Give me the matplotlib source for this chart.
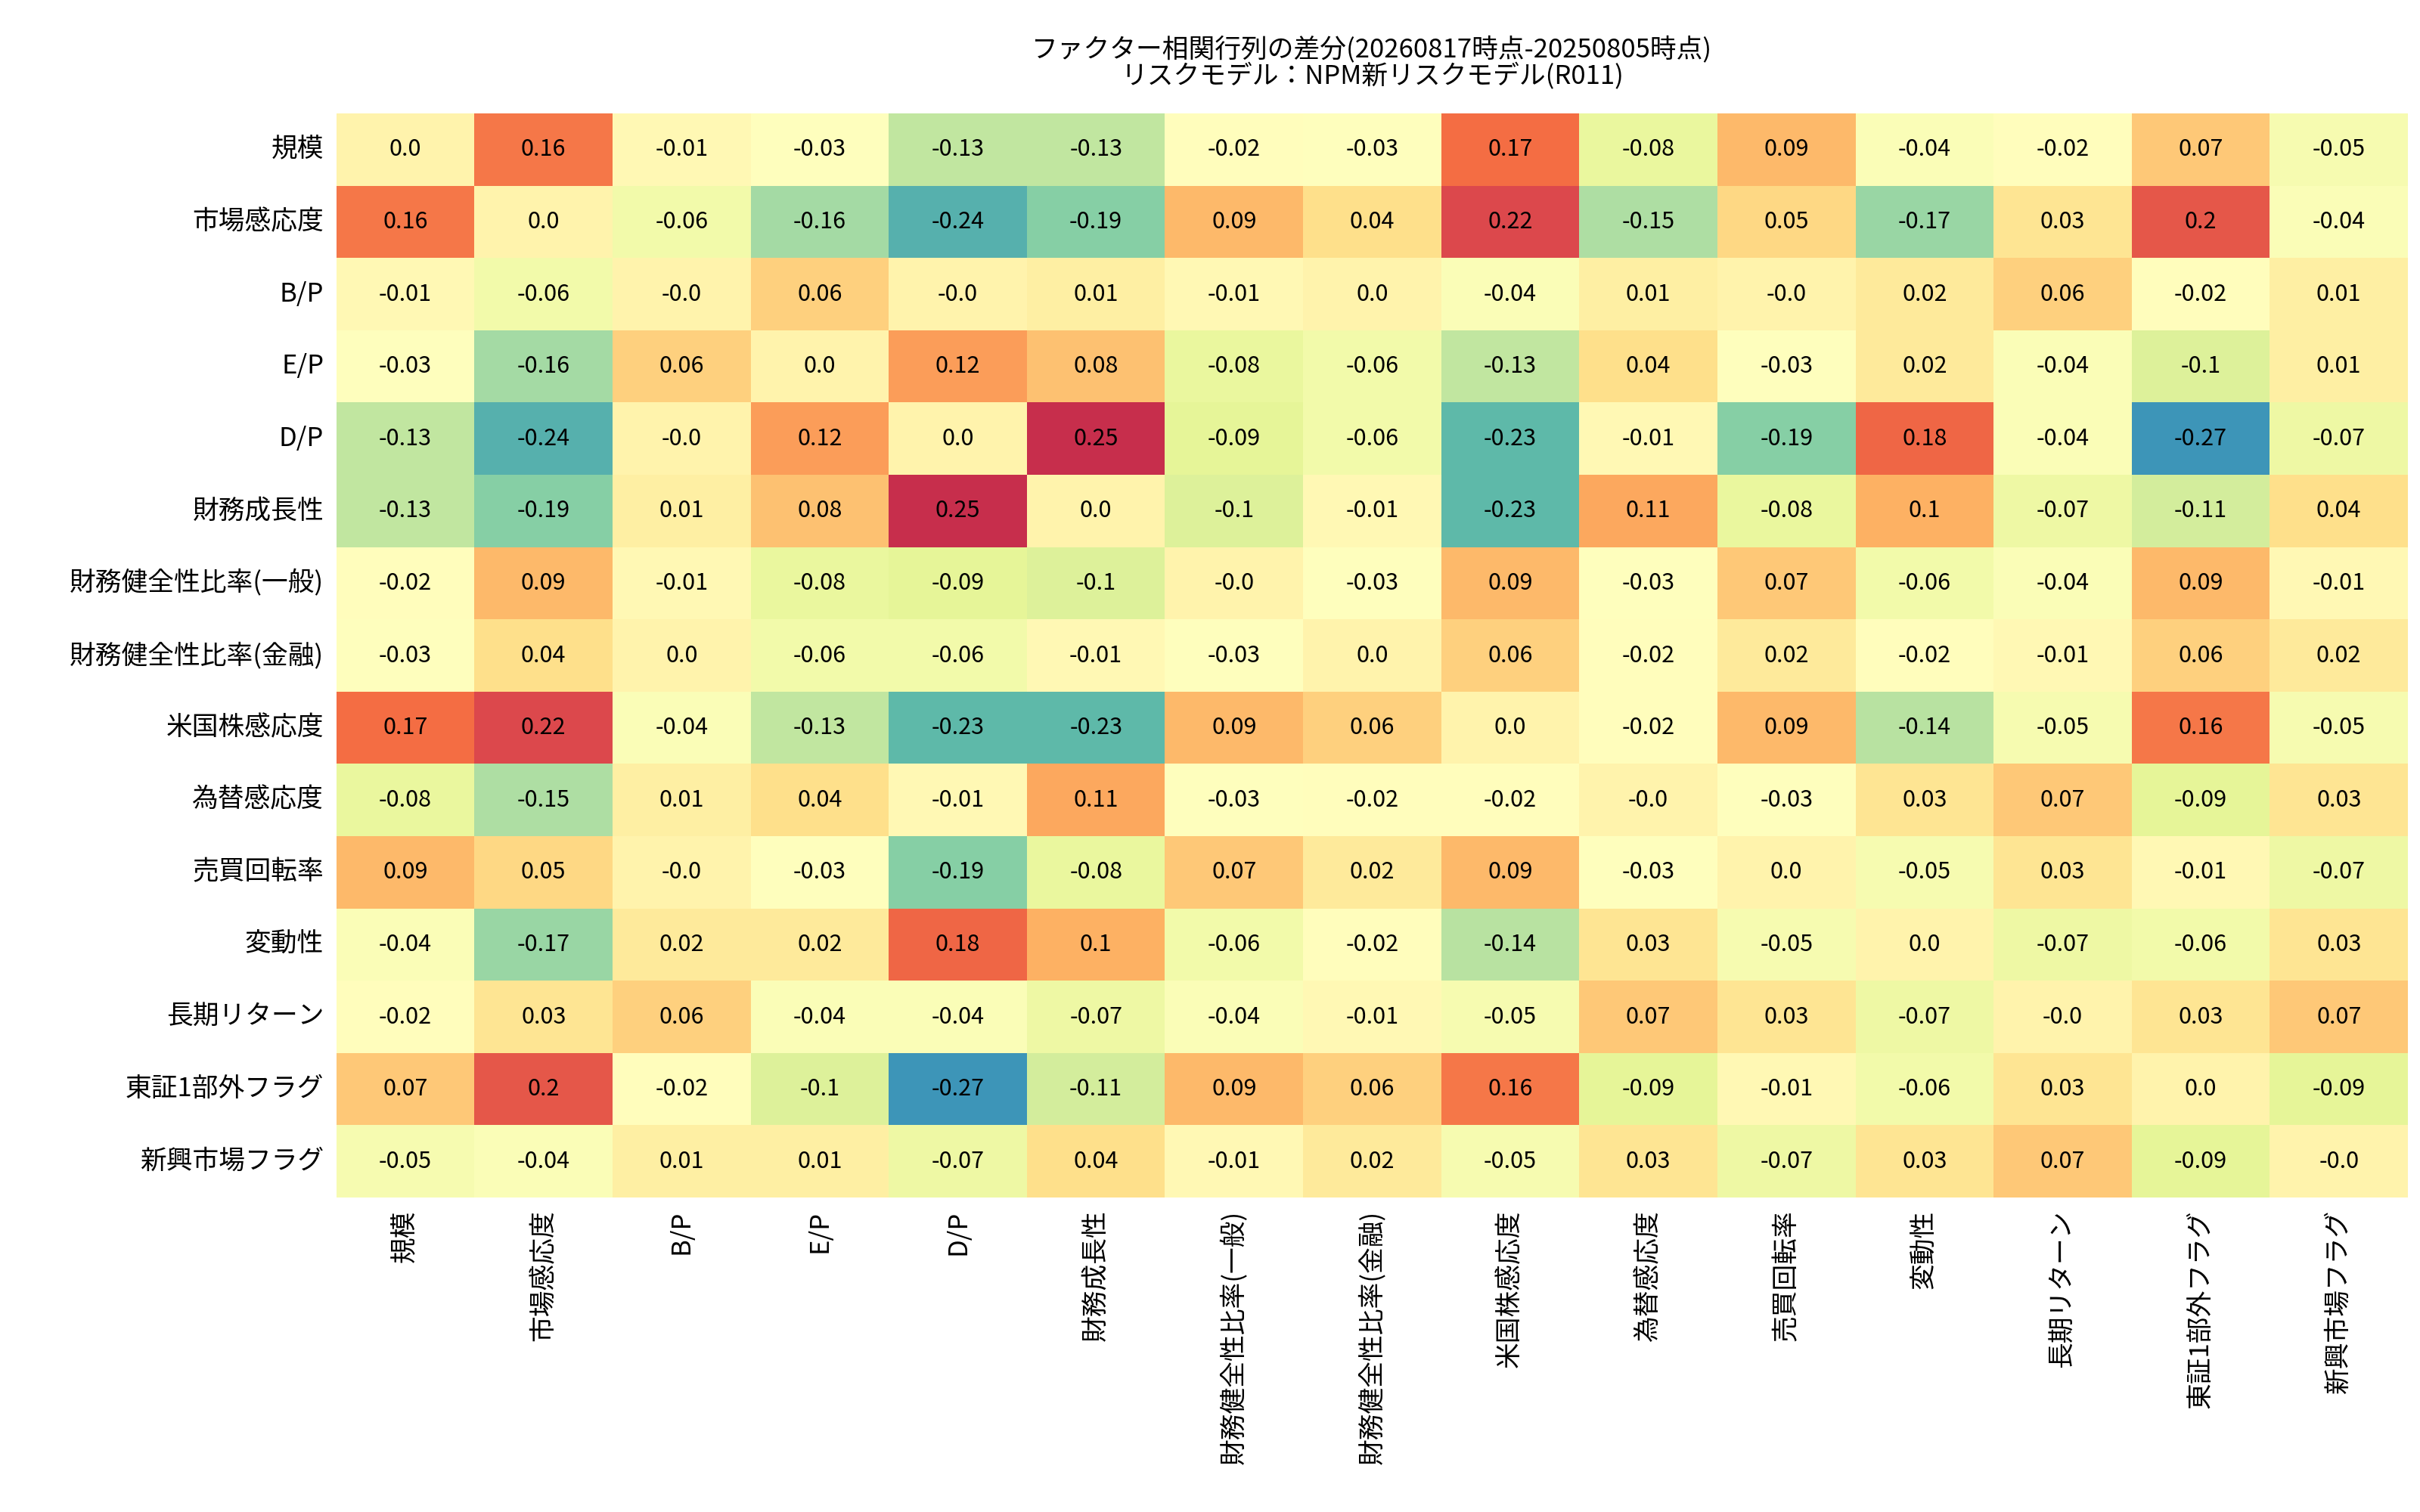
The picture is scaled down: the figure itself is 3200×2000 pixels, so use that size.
import numpy as np
import matplotlib
matplotlib.use("Agg")
import matplotlib.pyplot as plt
import seaborn as sns

plt.rcParams['font.family'] = ['Noto Sans CJK JP', 'DejaVu Sans']

factors = ['規模', '市場感応度', 'B/P', 'E/P', 'D/P', '財務成長性', '財務健全性比率(一般)',
           '財務健全性比率(金融)', '米国株感応度', '為替感応度', '売買回転率', '変動性',
           '長期リターン', '東証1部外フラグ', '新興市場フラグ']

diff = [
    [0.0, 0.16, -0.01, -0.03, -0.13, -0.13, -0.02, -0.03, 0.17, -0.08, 0.09, -0.04, -0.02, 0.07, -0.05],
    [0.16, 0.0, -0.06, -0.16, -0.24, -0.19, 0.09, 0.04, 0.22, -0.15, 0.05, -0.17, 0.03, 0.2, -0.04],
    [-0.01, -0.06, -0.0, 0.06, -0.0, 0.01, -0.01, 0.0, -0.04, 0.01, -0.0, 0.02, 0.06, -0.02, 0.01],
    [-0.03, -0.16, 0.06, 0.0, 0.12, 0.08, -0.08, -0.06, -0.13, 0.04, -0.03, 0.02, -0.04, -0.1, 0.01],
    [-0.13, -0.24, -0.0, 0.12, 0.0, 0.25, -0.09, -0.06, -0.23, -0.01, -0.19, 0.18, -0.04, -0.27, -0.07],
    [-0.13, -0.19, 0.01, 0.08, 0.25, 0.0, -0.1, -0.01, -0.23, 0.11, -0.08, 0.1, -0.07, -0.11, 0.04],
    [-0.02, 0.09, -0.01, -0.08, -0.09, -0.1, -0.0, -0.03, 0.09, -0.03, 0.07, -0.06, -0.04, 0.09, -0.01],
    [-0.03, 0.04, 0.0, -0.06, -0.06, -0.01, -0.03, 0.0, 0.06, -0.02, 0.02, -0.02, -0.01, 0.06, 0.02],
    [0.17, 0.22, -0.04, -0.13, -0.23, -0.23, 0.09, 0.06, 0.0, -0.02, 0.09, -0.14, -0.05, 0.16, -0.05],
    [-0.08, -0.15, 0.01, 0.04, -0.01, 0.11, -0.03, -0.02, -0.02, -0.0, -0.03, 0.03, 0.07, -0.09, 0.03],
    [0.09, 0.05, -0.0, -0.03, -0.19, -0.08, 0.07, 0.02, 0.09, -0.03, 0.0, -0.05, 0.03, -0.01, -0.07],
    [-0.04, -0.17, 0.02, 0.02, 0.18, 0.1, -0.06, -0.02, -0.14, 0.03, -0.05, 0.0, -0.07, -0.06, 0.03],
    [-0.02, 0.03, 0.06, -0.04, -0.04, -0.07, -0.04, -0.01, -0.05, 0.07, 0.03, -0.07, -0.0, 0.03, 0.07],
    [0.07, 0.2, -0.02, -0.1, -0.27, -0.11, 0.09, 0.06, 0.16, -0.09, -0.01, -0.06, 0.03, 0.0, -0.09],
    [-0.05, -0.04, 0.01, 0.01, -0.07, 0.04, -0.01, 0.02, -0.05, 0.03, -0.07, 0.03, 0.07, -0.09, -0.0],
]

data = np.array(diff)
labels = np.array([[str(v) for v in row] for row in diff])

fig = plt.figure(figsize=(16, 10), dpi=200)
ax = fig.add_axes([0.139, 0.208, 0.856, 0.717])
sns.heatmap(data, ax=ax, cmap='Spectral_r', vmin=-0.35, vmax=0.3, cbar=False,
            annot=labels, fmt='', annot_kws={'fontsize': 11, 'color': 'black'},
            xticklabels=factors, yticklabels=factors)
ax.tick_params(length=0, labelsize=12.5, pad=6)
plt.setp(ax.get_xticklabels(), rotation=90)
plt.setp(ax.get_yticklabels(), rotation=0)
ax.set_title('ファクター相関行列の差分(20260817時点-20250805時点)\nリスクモデル：NPM新リスクモデル(R011)',
             fontsize=12.5, linespacing=1.0, pad=14)

fig.savefig('out.png', dpi=200)
